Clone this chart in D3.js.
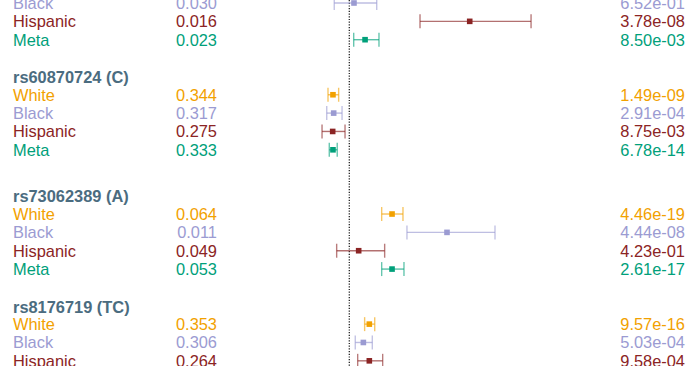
<!DOCTYPE html>
<html>
<head>
<meta charset="utf-8">
<script src="https://cdn.jsdelivr.net/npm/d3@7"></script>
<style>
  html, body { margin: 0; padding: 0; background: #fff; }
  svg { display: block; }
  text { font-family: "Liberation Sans", Arial, Helvetica, sans-serif; }
</style>
</head>
<body>
<svg id="chart" width="699" height="366"></svg>
<script>
// ---- data ----
const snpNames = [null, "rs60870724 (C)", "rs73062389 (A)", "rs8176719 (TC)"];
const populations = ["White", "Black", "Hispanic", "Meta"];
const popColors = ["#f2a100", "#9b9bd2", "#8b2424", "#00a07a"];
const freqs = [
  [null, "0.030", "0.016", "0.023"],
  ["0.344", "0.317", "0.275", "0.333"],
  ["0.064", "0.011", "0.049", "0.053"],
  ["0.353", "0.306", "0.264", null]
];
const oddsRatio = [
  [null, 1.033, 1.848, 1.111],
  [0.885, 0.890, 0.883, 0.885],
  [1.301, 1.688, 1.066, 1.301],
  [1.141, 1.099, 1.141, null]
];
const ciLower = [
  [null, 0.894, 1.498, 1.031],
  [0.850, 0.841, 0.808, 0.859],
  [1.228, 1.406, 0.911, 1.228],
  [1.108, 1.042, 1.059, null]
];
const ciUpper = [
  [null, 1.193, 2.280, 1.209],
  [0.925, 0.949, 0.970, 0.915],
  [1.378, 2.026, 1.249, 1.385],
  [1.179, 1.162, 1.235, null]
];
const pValues = [
  [null, "6.52e-01", "3.78e-08", "8.50e-03"],
  ["1.49e-09", "2.91e-04", "8.75e-03", "6.78e-14"],
  ["4.46e-19", "4.44e-08", "4.23e-01", "2.61e-17"],
  ["9.57e-16", "5.03e-04", "9.58e-04", null]
];
const nullValue = 1;

// ---- layout ----
const W = 699, H = 366;
const svg = d3.select("#chart");
const x = d3.scaleLinear().domain([0.5, 2.5]).range([278.3, 562.3]);
const y = d3.scaleLinear().domain([0, 1]).range([3, 21.35]);
const gapAfter = [2, 2.5, 2];
const firstWhite = [];
let cur = -1;
snpNames.forEach((_, g) => { firstWhite.push(cur); cur = cur + populations.length + (gapAfter[g] || 2); });

const labelX = 13, freqX = 217, pX = 685;
const fontSize = 16.4;

// null reference line
svg.append("line")
  .attr("x1", x(nullValue)).attr("x2", x(nullValue))
  .attr("y1", 0).attr("y2", H)
  .attr("stroke", "#222").attr("stroke-width", 1.3)
  .attr("stroke-dasharray", "1.2,1.5");

const rows = [];
snpNames.forEach((name, g) => {
  populations.forEach((pop, p) => {
    if (oddsRatio[g][p] == null) return;
    rows.push({ g, p, idx: firstWhite[g] + p, pop, color: popColors[p],
      freq: freqs[g][p], or: oddsRatio[g][p], lo: ciLower[g][p], hi: ciUpper[g][p], pv: pValues[g][p] });
  });
});

// headers
svg.selectAll("text.hdr").data(snpNames.map((n, g) => ({ n, g })).filter(d => d.n))
  .join("text").attr("class", "hdr")
  .attr("x", labelX).attr("y", d => y(firstWhite[d.g] - 1) + 6.8)
  .attr("font-size", fontSize).attr("font-weight", "bold")
  .attr("fill", "#4b6c80").text(d => d.n);

const rg = svg.selectAll("g.row").data(rows).join("g").attr("class", "row");

rg.append("text").attr("x", labelX).attr("y", d => y(d.idx) + 5.8)
  .attr("font-size", fontSize).attr("fill", d => d.color).text(d => d.pop);
rg.append("text").attr("x", freqX).attr("y", d => y(d.idx) + 5.8)
  .attr("text-anchor", "end")
  .attr("font-size", fontSize).attr("fill", d => d.color).text(d => d.freq);
rg.append("text").attr("x", pX).attr("y", d => y(d.idx) + 5.8)
  .attr("text-anchor", "end")
  .attr("font-size", fontSize).attr("fill", d => d.color).text(d => d.pv);

// CI lines and caps
rg.append("line")
  .attr("x1", d => x(d.lo)).attr("x2", d => x(d.hi))
  .attr("y1", d => y(d.idx)).attr("y2", d => y(d.idx))
  .attr("stroke", d => d.color).attr("stroke-opacity", 0.65).attr("stroke-width", 1.4);
["lo", "hi"].forEach(k => {
  rg.append("line")
    .attr("x1", d => x(d[k])).attr("x2", d => x(d[k]))
    .attr("y1", d => y(d.idx) - 7).attr("y2", d => y(d.idx) + 7)
    .attr("stroke", d => d.color).attr("stroke-opacity", 0.6).attr("stroke-width", 1.4);
});
rg.append("rect")
  .attr("x", d => x(d.or) - 2.8).attr("y", d => y(d.idx) - 2.8)
  .attr("width", 5.6).attr("height", 5.6)
  .attr("fill", d => d.color);
</script>
</body>
</html>
